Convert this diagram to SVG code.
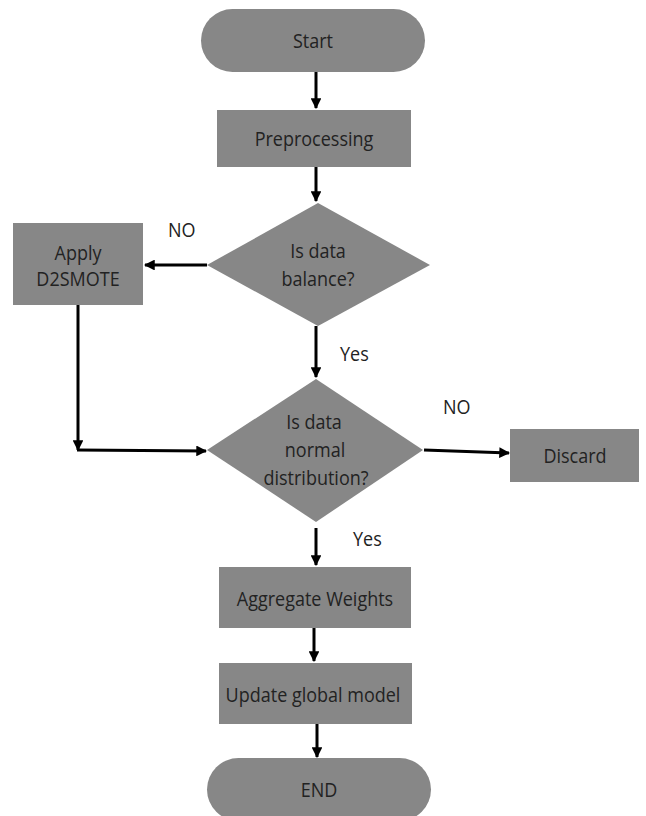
<svg xmlns="http://www.w3.org/2000/svg" width="646" height="816" viewBox="0 0 646 816">
<defs>
<style>
.n{fill:#878787;}
.t{font-family:"Open Sans","Noto Sans",sans-serif;font-size:20px;fill:#222;text-anchor:middle;}
.s{font-family:"Open Sans","Noto Sans",sans-serif;font-size:20px;fill:#222;}
.c{stroke:#000;stroke-width:3;fill:none;}
</style>
<marker id="ah" viewBox="0 0 10 10" refX="9" refY="5" markerWidth="3.6" markerHeight="3.6" orient="auto" markerUnits="strokeWidth">
<path d="M0,0 L10,5 L0,10 z" fill="#000"/>
</marker>
</defs>
<rect width="646" height="816" fill="#fff"/>
<g id="connectors">
<line class="c" x1="316" y1="72" x2="316" y2="108" marker-end="url(#ah)"/>
<line class="c" x1="316" y1="167" x2="316" y2="201" marker-end="url(#ah)"/>
<line class="c" x1="207" y1="265" x2="145" y2="265" marker-end="url(#ah)"/>
<line class="c" x1="316" y1="326" x2="316" y2="377" marker-end="url(#ah)"/>
<line class="c" x1="78" y1="305" x2="78" y2="450" marker-end="url(#ah)"/>
<line class="c" x1="77" y1="450" x2="206" y2="451" marker-end="url(#ah)"/>
<line class="c" x1="424" y1="450" x2="509" y2="453" marker-end="url(#ah)"/>
<line class="c" x1="316" y1="528" x2="316" y2="565" marker-end="url(#ah)"/>
<line class="c" x1="314" y1="628" x2="314" y2="661" marker-end="url(#ah)"/>
<line class="c" x1="317" y1="724" x2="317" y2="757" marker-end="url(#ah)"/>
</g>
<g id="start">
<rect class="n" x="201" y="9" width="224" height="63" rx="31.5"/>
<text class="t" transform="translate(313,48) scale(0.9,1)">Start</text>
</g>
<g id="preprocessing">
<rect class="n" x="217" y="110" width="194" height="57"/>
<text class="t" transform="translate(314,146) scale(0.9,1)">Preprocessing</text>
</g>
<g id="balance">
<polygon class="n" points="318,203 430,265 318,326 207,265"/>
<text class="t" transform="translate(318,258) scale(0.9,1)">Is data</text>
<text class="t" transform="translate(318,286) scale(0.9,1)">balance?</text>
</g>
<g id="d2smote">
<rect class="n" x="13" y="223" width="130" height="82"/>
<text class="t" transform="translate(78,260) scale(0.9,1)">Apply</text>
<text class="t" transform="translate(78,286) scale(0.9,1)">D2SMOTE</text>
</g>
<g id="normal">
<polygon class="n" points="316,379 423,450 316,522 207,450"/>
<text class="t" transform="translate(314,429) scale(0.9,1)">Is data</text>
<text class="t" transform="translate(315,457) scale(0.9,1)">normal</text>
<text class="t" transform="translate(316,485) scale(0.9,1)">distribution?</text>
</g>
<g id="discard">
<rect class="n" x="510" y="429" width="129" height="53"/>
<text class="t" transform="translate(575,463) scale(0.9,1)">Discard</text>
</g>
<g id="aggregate">
<rect class="n" x="219" y="567" width="192" height="61"/>
<text class="t" transform="translate(315,606) scale(0.9,1)">Aggregate Weights</text>
</g>
<g id="update">
<rect class="n" x="219" y="663" width="193" height="61"/>
<text class="t" transform="translate(313,702) scale(0.9,1)">Update global model</text>
</g>
<g id="end">
<rect class="n" x="207" y="758" width="224" height="63" rx="31.5"/>
<text class="t" transform="translate(319,797) scale(0.9,1)">END</text>
</g>
<g id="labels">
<text class="s" transform="translate(168,237) scale(0.9,1)">NO</text>
<text class="s" transform="translate(340,361) scale(0.9,1)">Yes</text>
<text class="s" transform="translate(443,414) scale(0.9,1)">NO</text>
<text class="s" transform="translate(353,546) scale(0.9,1)">Yes</text>
</g>
</svg>
